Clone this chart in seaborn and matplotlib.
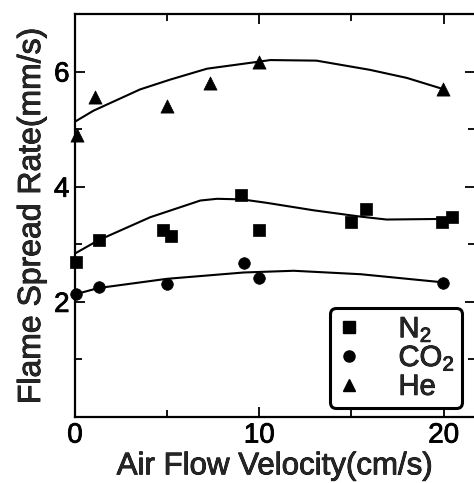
import pandas as pd
import matplotlib
matplotlib.use("Agg")
import matplotlib.pyplot as plt
import matplotlib.patheffects as pe
from matplotlib.lines import Line2D
from matplotlib.ticker import MultipleLocator
import seaborn as sns

# measured points
n2_x = [0.05, 1.3, 4.8, 5.2, 9.0, 9.96, 14.95, 15.8, 19.93, 20.47]
n2_y = [2.70, 3.08, 3.24, 3.15, 3.85, 3.25, 3.39, 3.61, 3.39, 3.48]
co2_x = [0.05, 1.3, 4.98, 9.15, 10.0, 19.96]
co2_y = [2.13, 2.25, 2.31, 2.67, 2.41, 2.32]
he_x = [0.1, 1.09, 4.98, 7.3, 9.96, 19.96]
he_y = [4.90, 5.55, 5.41, 5.80, 6.16, 5.70]

# fitted curves
n2_fit_x = [0.0, 1.27, 4.08, 6.8, 7.7, 9.06, 10.4, 12.95, 15.5, 16.9, 19.8, 20.4]
n2_fit_y = [2.84, 3.07, 3.47, 3.76, 3.79, 3.78, 3.72, 3.59, 3.48, 3.43, 3.44, 3.47]
co2_fit_x = [0.0, 1.27, 4.98, 9.15, 11.86, 15.5, 19.93]
co2_fit_y = [2.13, 2.24, 2.40, 2.51, 2.54, 2.48, 2.34]
he_fit_x = [0.0, 1.0, 3.53, 5.16, 7.16, 9.7, 10.6, 13.1, 16.0, 18.0, 19.93]
he_fit_y = [5.13, 5.32, 5.69, 5.86, 6.05, 6.16, 6.20, 6.19, 6.03, 5.89, 5.70]

gases = ["N$_2$", "CO$_2$", "He"]
markers = {"N$_2$": "s", "CO$_2$": "o", "He": "^"}
sizes = {"N$_2$": 85, "CO$_2$": 70, "He": 90}

pts = pd.concat([
    pd.DataFrame({"v": n2_x, "rate": n2_y, "gas": gases[0]}),
    pd.DataFrame({"v": co2_x, "rate": co2_y, "gas": gases[1]}),
    pd.DataFrame({"v": he_x, "rate": he_y, "gas": gases[2]}),
])
fits = pd.concat([
    pd.DataFrame({"v": n2_fit_x, "rate": n2_fit_y, "gas": gases[0]}),
    pd.DataFrame({"v": co2_fit_x, "rate": co2_fit_y, "gas": gases[1]}),
    pd.DataFrame({"v": he_fit_x, "rate": he_fit_y, "gas": gases[2]}),
])

sns.set_theme(style="ticks")
plt.rcParams["font.family"] = ["Liberation Sans", "DejaVu Sans"]
plt.rcParams["mathtext.fontset"] = "custom"
plt.rcParams["mathtext.rm"] = "Liberation Sans"
plt.rcParams["mathtext.it"] = "Liberation Sans"

# scanned text looks heavier than a plain regular face
thick = [pe.withStroke(linewidth=0.6, foreground="black")]

fig = plt.figure(figsize=(4.74, 4.83), dpi=100)
ax = fig.add_axes([75 / 474, 66 / 483, 400 / 474, 403 / 483])

for g in gases:
    d = fits[fits["gas"] == g]
    sns.lineplot(data=d, x="v", y="rate", ax=ax, color="black", lw=1.5,
                 sort=False, estimator=None, legend=False)
    p = pts[pts["gas"] == g]
    sns.scatterplot(data=p, x="v", y="rate", ax=ax, marker=markers[g],
                    s=sizes[g], color="black", edgecolor="black",
                    linewidth=0.5, legend=False, zorder=3, clip_on=False)

ax.set_xlim(0, 21.7)
ax.set_ylim(0, 7.0)
ax.set_xticks([0, 10, 20])
ax.xaxis.set_minor_locator(MultipleLocator(5))
ax.set_yticks([2, 4, 6])
ax.yaxis.set_minor_locator(MultipleLocator(1))
ax.tick_params(which="both", direction="in", top=True, right=True,
               width=1.3, labelsize=20, pad=4, colors="black")
ax.tick_params(which="major", length=7)
ax.tick_params(which="minor", length=5)
for s in ax.spines.values():
    s.set_linewidth(1.6)
    s.set_color("black")

ax.set_xlabel("Air Flow Velocity(cm/s)", fontsize=22.5, labelpad=2)
ax.set_ylabel("Flame Spread Rate(mm/s)", fontsize=23, labelpad=5)
ax.xaxis.label.set_path_effects(thick)
ax.yaxis.label.set_path_effects(thick)
for t in ax.get_xticklabels() + ax.get_yticklabels():
    t.set_path_effects(thick)

handles = [Line2D([], [], ls="none", marker=markers[g], color="black",
                  markersize=8) for g in gases]
leg = ax.legend(handles, gases, loc="lower right", fontsize=21,
                frameon=True, fancybox=True, framealpha=1, edgecolor="black",
                handlelength=0.8, handletextpad=1.3, labelspacing=0.0,
                borderpad=0.25, borderaxespad=0,
                bbox_to_anchor=(0.9675, 0.022))
leg.get_frame().set_linewidth(2.2)
for t in leg.get_texts():
    t.set_path_effects(thick)

fig.savefig("out.png", dpi=100)
